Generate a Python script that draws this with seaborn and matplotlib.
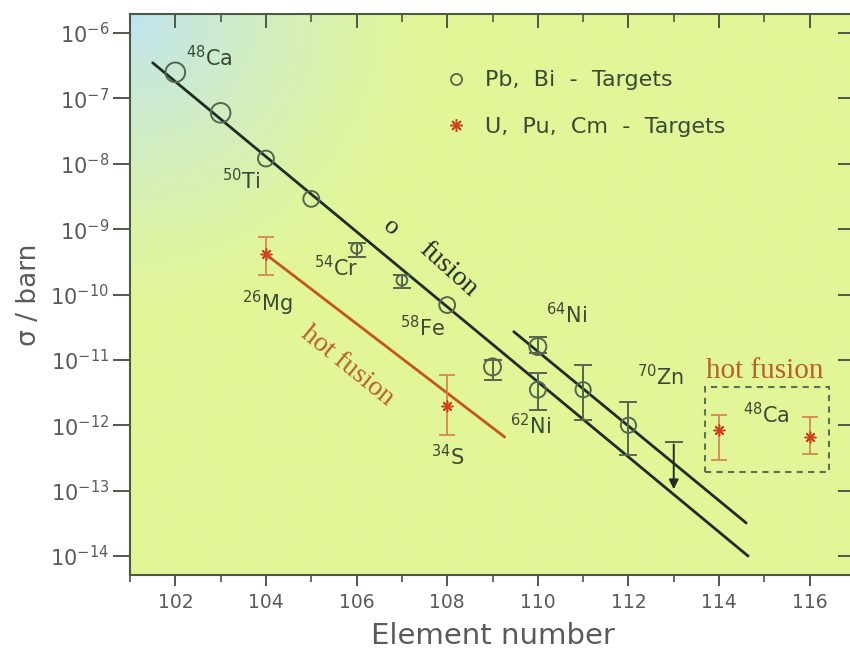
# Cross sections for the synthesis of superheavy elements (cold vs hot fusion).

import seaborn as sns
import matplotlib.pyplot as plt
from matplotlib.lines import Line2D
from matplotlib.patches import Rectangle
from matplotlib.ticker import MultipleLocator, NullLocator, FixedLocator
import numpy as np

sns.set_theme(style="white")
plt.rcParams['font.family'] = ['DejaVu Sans']
plt.rcParams['mathtext.fontset'] = 'dejavusans'

# Pb, Bi targets (cold fusion) - element number, cross section and error range in barn.
pb_z = [102, 103, 104, 105, 106, 107, 108, 109, 110, 110, 111, 112]
pb_sigma = [2.5e-7, 6.0e-8, 1.2e-8, 2.9e-9, 5.1e-10, 1.65e-10, 6.9e-11,
            7.8e-12, 1.6e-11, 3.5e-12, 3.5e-12, 1.0e-12]
pb_low = [2.5e-7, 6.0e-8, 1.2e-8, 2.9e-9, 3.8e-10, 1.26e-10, 6.9e-11,
          4.9e-12, 1.29e-11, 1.74e-12, 1.2e-12, 3.55e-13]
pb_high = [2.5e-7, 6.0e-8, 1.2e-8, 2.9e-9, 6.2e-10, 2.0e-10, 6.9e-11,
           1.0e-11, 2.24e-11, 6.3e-12, 8.3e-12, 2.3e-12]

# Upper limit for element 113 (70Zn) and where its arrow ends.
limit_z = 113
limit_sigma = 5.6e-13
limit_tip = 9.5e-14

# U, Pu, Cm targets (hot fusion).
hot_z = [104, 108, 114, 116]
hot_sigma = [4.1e-10, 2.0e-12, 8.5e-13, 6.6e-13]
hot_low = [2.0e-10, 7.1e-13, 2.95e-13, 3.6e-13]
hot_high = [7.6e-10, 5.9e-12, 1.45e-12, 1.35e-12]

# Systematic trend lines.
cold_line_z = [101.5, 114.64]
cold_line_sigma = [3.5e-7, 1.0e-14]
ni_line_z = [109.47, 114.6]
ni_line_sigma = [2.7e-11, 3.2e-14]
hot_line_z = [104.0, 109.27]
hot_line_sigma = [4.1e-10, 6.6e-13]

# Projectile labels: text, element number, cross section.
labels = [r"$^{48}$Ca", r"$^{50}$Ti", r"$^{54}$Cr", r"$^{26}$Mg", r"$^{58}$Fe",
          r"$^{64}$Ni", r"$^{62}$Ni", r"$^{34}$S", r"$^{70}$Zn", r"$^{48}$Ca"]
label_z = [102.24, 103.02, 105.07, 103.48, 106.95, 110.19, 109.38, 107.65, 112.18, 114.52]
label_sigma = [4.2e-7, 5.6e-9, 2.6e-10, 7.4e-11, 3.1e-11, 5.0e-11, 9.8e-13,
               3.3e-13, 5.5e-12, 1.48e-12]

# Decade ticks on the cross section axis.
y_ticks = [1e-14, 1e-13, 1e-12, 1e-11, 1e-10, 1e-9, 1e-8, 1e-7, 1e-6]

dark = "#1f2d26"
grey = "#56664f"
txt = "#3b4a36"
red = "#d2401e"
orange = "#d4804d"
hot_txt = "#b8602c"
axis_col = "#4c5a46"
tick_txt = "#5a5a5a"

fig = plt.figure(figsize=(8.5, 6.5), dpi=100)
ax = fig.add_axes([130 / 850, 75 / 650, 725 / 850, 561 / 650])
ax.set_yscale("log")
ax.set_xlim(101, 117)
ax.set_ylim(10 ** -14.29, 10 ** -5.71)

# Background: yellow-green with a pale blue corner at the top left.
h, w = 280, 360
yy, xx = np.mgrid[0:h, 0:w]
d = np.sqrt((xx / w * 725) ** 2 + (yy / h * 561) ** 2)
wgt = np.clip(1 - d / 300, 0, 1) ** 1.3
base = np.array([226, 246, 152]) / 255
corner = np.array([192, 228, 240]) / 255
img = base[None, None, :] * (1 - wgt[..., None]) + corner[None, None, :] * wgt[..., None]
ax.imshow(img, extent=[0, 1, 0, 1], transform=ax.transAxes, aspect="auto", zorder=0)

# Trend lines.
sns.lineplot(x=cold_line_z, y=cold_line_sigma, color=dark, lw=2, ax=ax, zorder=3)
sns.lineplot(x=ni_line_z, y=ni_line_sigma, color=dark, lw=2, ax=ax, zorder=3)
sns.lineplot(x=hot_line_z, y=hot_line_sigma, color="#c4561e", lw=2, ax=ax, zorder=3)

# Error bars (only for the points that have a measured range).
pb_sigma_a = np.array(pb_sigma)
pb_low_a = np.array(pb_low)
pb_high_a = np.array(pb_high)
has_err = pb_high_a > pb_low_a
ax.errorbar(np.array(pb_z)[has_err], pb_sigma_a[has_err],
            yerr=[pb_sigma_a[has_err] - pb_low_a[has_err], pb_high_a[has_err] - pb_sigma_a[has_err]],
            fmt="none", ecolor=grey, elinewidth=1.4, capsize=6.5, capthick=1.4, zorder=4)
hot_err = [np.array(hot_sigma) - np.array(hot_low), np.array(hot_high) - np.array(hot_sigma)]
ax.errorbar(hot_z, hot_sigma, yerr=hot_err, fmt="none", ecolor=orange, elinewidth=1.2,
            capsize=5.5, capthick=1.2, zorder=4)

# Data points.
pb_sizes = [200, 200, 130, 130, 60, 60, 130, 150, 150, 130, 120, 120]
sns.scatterplot(x=pb_z, y=pb_sigma, marker="o", s=pb_sizes, facecolor="none",
                edgecolor=grey, linewidth=1.4, ax=ax, zorder=5)
sns.scatterplot(x=hot_z, y=hot_sigma, marker=(8, 2, 0), s=60, color=red,
                linewidth=1.1, ax=ax, zorder=5)

# Upper limit for 113.
ax.errorbar([limit_z], [limit_sigma], yerr=[[0], [0]], fmt="none", ecolor=grey,
            capsize=6.5, capthick=1.4, zorder=4)
ax.annotate("", xy=(limit_z, limit_tip), xytext=(limit_z, limit_sigma),
            arrowprops=dict(arrowstyle="-|>", color=dark, lw=1.4, mutation_scale=14),
            zorder=4)

# Hot fusion box with 48Ca.
ax.add_patch(Rectangle((113.68, 1.95e-13), 116.43 - 113.68, 3.9e-12 - 1.95e-13,
                       fill=False, ls=(0, (3, 2.5)), lw=1.5, ec="#5b7355", zorder=3))

for t, z, s in zip(labels, label_z, label_sigma):
    ax.text(z, s, t, fontsize=15, color=txt, ha="left", va="center", zorder=6)

ax.text(115.0, 6.8e-12, "hot fusion", fontsize=21, color=hot_txt, family="Liberation Serif",
        ha="center", va="center")
ax.text(105.8, 8.1e-12, "hot fusion", fontsize=20, color=hot_txt, family="Liberation Serif",
        ha="center", va="center", rotation=-39)
ax.text(106.76, 1.07e-9, "o", fontsize=19, color=dark, family="Liberation Serif",
        ha="center", va="center", rotation=-40)
ax.text(108.03, 2.4e-10, "fusion", fontsize=20, color=dark, family="Liberation Serif",
        ha="center", va="center", rotation=-42)

# Legend.
handles = [Line2D([], [], marker="o", ls="none", mfc="none", mec=grey, ms=8, mew=1.3,
                  label="Pb,  Bi  -  Targets"),
           Line2D([], [], marker=(8, 2, 0), ls="none", color=red, ms=9, mew=1.1,
                  label="U,  Pu,  Cm  -  Targets")]
leg = ax.legend(handles=handles, loc="upper left", bbox_to_anchor=(0.404, 0.935),
                frameon=False, fontsize=16, handlelength=1.2, handletextpad=0.7,
                labelspacing=1.2)
for t in leg.get_texts():
    t.set_color(txt)

# Axes, ticks and labels.
for side in ["left", "bottom", "top"]:
    ax.spines[side].set_color(axis_col)
    ax.spines[side].set_linewidth(1.5)
ax.spines["right"].set_visible(False)

ax.xaxis.set_major_locator(MultipleLocator(2))
ax.xaxis.set_minor_locator(MultipleLocator(1))
ax.yaxis.set_major_locator(FixedLocator(y_ticks))
ax.yaxis.set_minor_locator(NullLocator())
ax.tick_params(axis="x", which="major", direction="out", length=8, width=1.4,
               color=axis_col, labelsize=13.5, labelcolor=tick_txt, pad=5, bottom=True)
ax.tick_params(axis="x", which="minor", direction="out", length=5, width=1.2,
               color=axis_col, bottom=True)
ax.tick_params(axis="y", which="major", direction="out", length=12, width=1.4,
               color=axis_col, labelsize=15, labelcolor=tick_txt, pad=3, left=True)

top = ax.secondary_xaxis("top")
top.xaxis.set_major_locator(MultipleLocator(2))
top.xaxis.set_minor_locator(MultipleLocator(1))
top.tick_params(which="major", direction="in", length=10, width=1.4, color=axis_col,
                labeltop=False)
top.tick_params(which="minor", direction="in", length=6, width=1.2, color=axis_col)
top.spines["top"].set_visible(False)

right = ax.secondary_yaxis("right")
right.yaxis.set_major_locator(FixedLocator(y_ticks))
right.yaxis.set_minor_locator(NullLocator())
right.tick_params(which="major", direction="in", length=12, width=1.4, color=axis_col,
                  labelright=False)
right.spines["right"].set_visible(False)

ax.set_xlabel("Element number", fontsize=21, color=tick_txt, labelpad=7)
ax.set_ylabel("σ / barn", fontsize=19, color=tick_txt, labelpad=6)

plt.savefig("out.png", dpi=100)
